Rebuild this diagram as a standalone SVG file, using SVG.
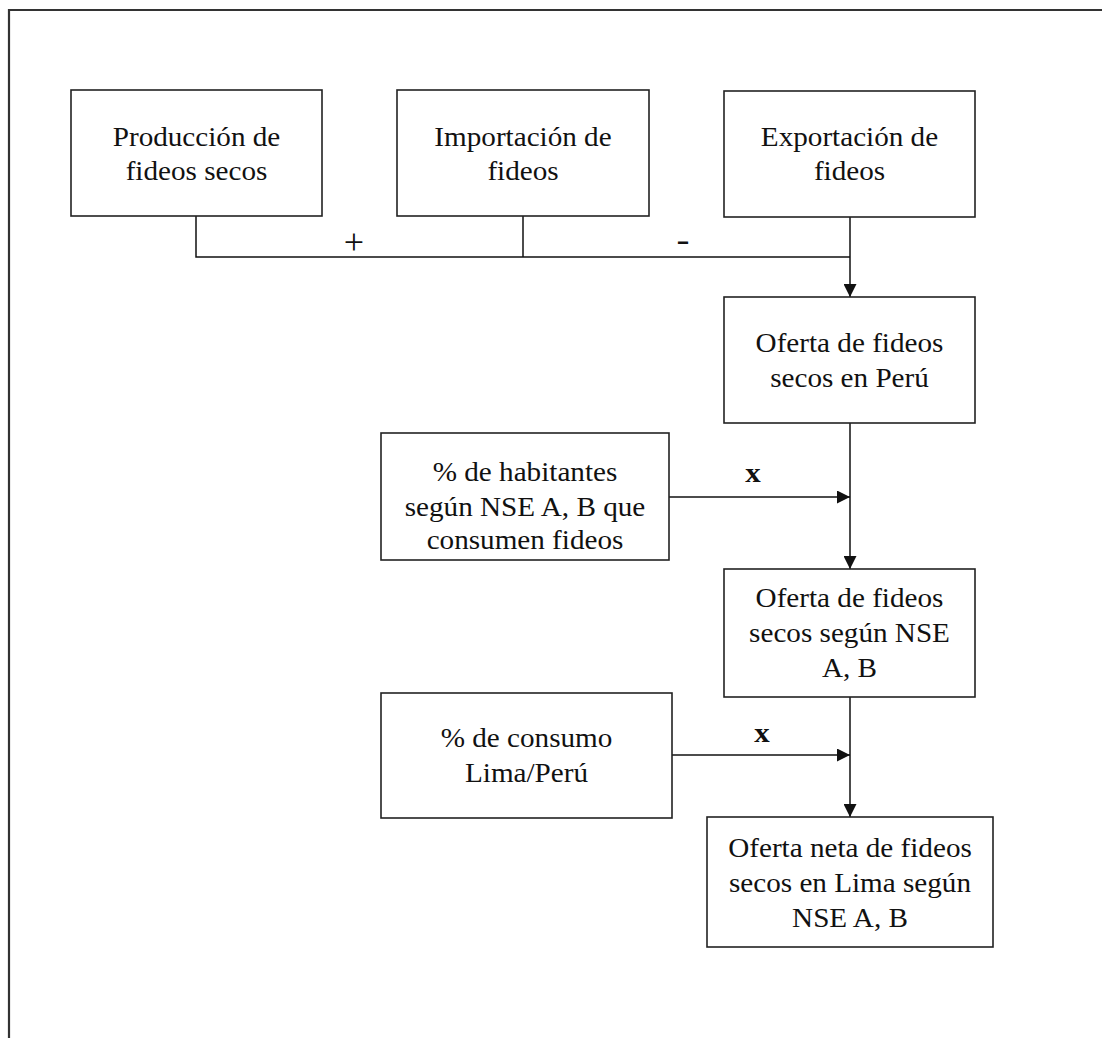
<svg xmlns="http://www.w3.org/2000/svg" width="1102" height="1038" viewBox="0 0 1102 1038">
<defs>
<style>
.box{fill:#fff;stroke:#222;stroke-width:1.6}
.ln{fill:none;stroke:#111;stroke-width:1.5}
.t{font-family:"Liberation Serif","Times New Roman",serif;font-size:27px;fill:#111;text-anchor:middle}
.op{font-family:"Liberation Serif","Times New Roman",serif;font-size:28px;fill:#111;text-anchor:middle}
.b{font-weight:bold}
</style>
<marker id="ah" markerUnits="userSpaceOnUse" markerWidth="13" markerHeight="13" refX="13" refY="6.5" orient="auto">
<path d="M0,0 L13,6.5 L0,13 z" fill="#111"/>
</marker>
</defs>
<rect width="1102" height="1038" fill="#fff"/>
<path d="M9 1038 V10 H1102" fill="none" stroke="#333" stroke-width="2.2"/>

<g id="connectors">
<path class="ln" d="M196 216 V257 H850"/>
<path class="ln" d="M523 216 V257"/>
<path class="ln" d="M850 217 V297" marker-end="url(#ah)"/>
<path class="ln" d="M850 423 V569" marker-end="url(#ah)"/>
<path class="ln" d="M669 497 H850" marker-end="url(#ah)"/>
<path class="ln" d="M850 697 V817" marker-end="url(#ah)"/>
<path class="ln" d="M672 755 H850" marker-end="url(#ah)"/>
<text class="op" x="354" y="254" style="font-size:36px">+</text>
<text class="op b" transform="matrix(1.3 0 0 1 683 0)" x="0" y="250" style="font-size:30px">-</text>
<text class="op b" transform="matrix(1.1 0 0 1 753 0)" x="0" y="482">x</text>
<text class="op b" transform="matrix(1.1 0 0 1 762 0)" x="0" y="742">x</text>
</g>

<g id="n1">
<rect class="box" x="71" y="90" width="251" height="126"/>
<text class="t" transform="matrix(1.08 0 0 1 196.5 0)"><tspan x="0" y="146">Producción de</tspan><tspan x="0" y="180">fideos secos</tspan></text>
</g>
<g id="n2">
<rect class="box" x="397" y="90" width="252" height="126"/>
<text class="t" transform="matrix(1.08 0 0 1 523 0)"><tspan x="0" y="146">Importación de</tspan><tspan x="0" y="180">fideos</tspan></text>
</g>
<g id="n3">
<rect class="box" x="724" y="91" width="251" height="126"/>
<text class="t" transform="matrix(1.08 0 0 1 849.5 0)"><tspan x="0" y="146">Exportación de</tspan><tspan x="0" y="180">fideos</tspan></text>
</g>
<g id="n4">
<rect class="box" x="724" y="297" width="251" height="126"/>
<text class="t" transform="matrix(1.08 0 0 1 849.5 0)"><tspan x="0" y="352">Oferta de fideos</tspan><tspan x="0" y="387">secos en Perú</tspan></text>
</g>
<g id="n5">
<rect class="box" x="381" y="433" width="288" height="127"/>
<text class="t" transform="matrix(1.08 0 0 1 525 0)"><tspan x="0" y="481">% de habitantes</tspan><tspan x="0" y="516">según NSE A, B que</tspan><tspan x="0" y="549">consumen fideos</tspan></text>
</g>
<g id="n6">
<rect class="box" x="724" y="569" width="251" height="128"/>
<text class="t" transform="matrix(1.08 0 0 1 849.5 0)"><tspan x="0" y="607">Oferta de fideos</tspan><tspan x="0" y="642">secos según NSE</tspan><tspan x="0" y="677">A, B</tspan></text>
</g>
<g id="n7">
<rect class="box" x="381" y="693" width="291" height="125"/>
<text class="t" transform="matrix(1.08 0 0 1 526.5 0)"><tspan x="0" y="747">% de consumo</tspan><tspan x="0" y="782">Lima/Perú</tspan></text>
</g>
<g id="n8">
<rect class="box" x="707" y="817" width="286" height="130"/>
<text class="t" transform="matrix(1.08 0 0 1 850 0)"><tspan x="0" y="857">Oferta neta de fideos</tspan><tspan x="0" y="892">secos en Lima según</tspan><tspan x="0" y="927">NSE A, B</tspan></text>
</g>
</svg>
